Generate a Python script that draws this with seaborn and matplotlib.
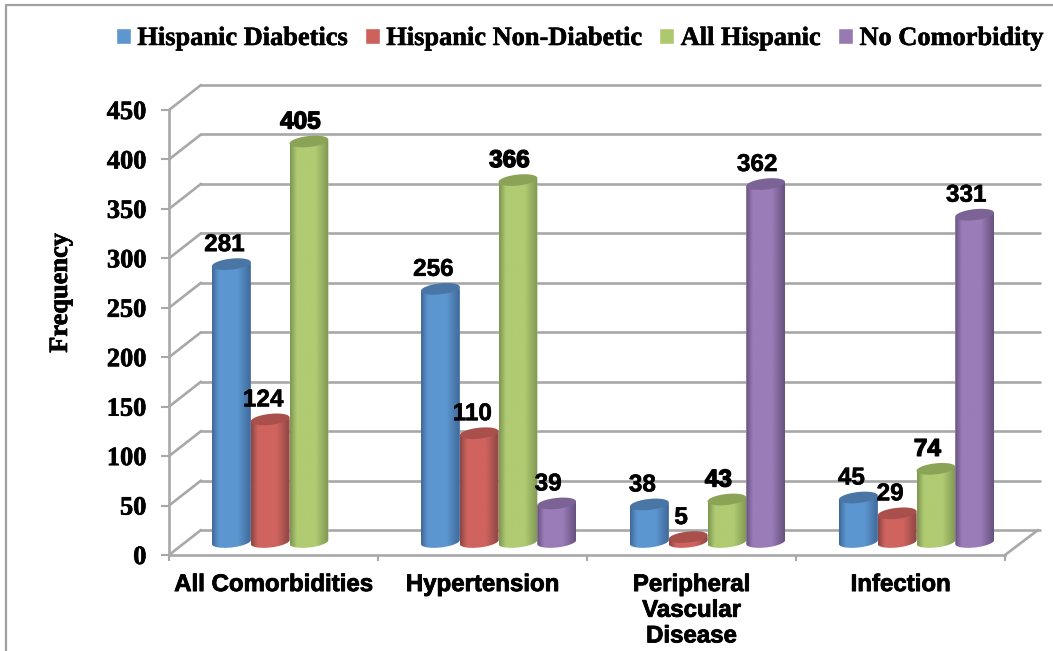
import numpy as np
import pandas as pd
import matplotlib
matplotlib.use("Agg")
import matplotlib.pyplot as plt
import matplotlib.patheffects as pe
from matplotlib.colors import LinearSegmentedColormap
from matplotlib.lines import Line2D
from matplotlib.patches import PathPatch
from matplotlib.path import Path
from matplotlib.transforms import Affine2D
import seaborn as sns

categories = ["All Comorbidities", "Hypertension", "Peripheral\nVascular\nDisease", "Infection"]
series_names = ["Hispanic Diabetics", "Hispanic Non-Diabetic", "All Hispanic", "No Comorbidity"]
hispanic_diabetics = [281, 256, 38, 45]
hispanic_non_diabetic = [124, 110, 5, 29]
all_hispanic = [405, 366, 43, 74]
no_comorbidity = [np.nan, 39, 362, 331]
y_ticks = [0, 50, 100, 150, 200, 250, 300, 350, 400, 450]

# Legend colour, cylinder edge, cylinder highlight and cap colour per series
swatch = ["#5F96CF", "#CD625D", "#AEC86F", "#977AB2"]
edge = ["#41699A", "#8C4644", "#7F9752", "#685280"]
highlight = ["#5C96D0", "#D0635E", "#B0CB72", "#9A7CB8"]
cap = ["#4A76A5", "#A94F4C", "#8AA356", "#7C6396"]
label_dx = [-7, -7, -8.5, -8.5]

GRID = "#A8A8A8"
W, H, DPI = 1053, 651, 100

table = pd.DataFrame({
    "category": np.tile(categories, 4),
    "series": np.repeat(series_names, 4),
    "frequency": hispanic_diabetics + hispanic_non_diabetic + all_hispanic + no_comorbidity,
})

sns.set_style("white")
plt.rcParams["font.family"] = ["Liberation Serif", "DejaVu Serif"]
plt.rcParams.update({"text.color": "black", "axes.labelcolor": "black",
                     "xtick.labelcolor": "black", "ytick.labelcolor": "black"})


def heavy(width=0.5):
    """Thin outline that thickens the bold lettering."""
    return [pe.withStroke(linewidth=width, foreground="black")]


fig = plt.figure(figsize=(W / DPI, H / DPI), dpi=DPI)
ax = fig.add_axes([169 / W, (H - 555) / H, 836 / W, 445 / H])
sns.barplot(
    data=table, x="category", y="frequency", hue="series",
    order=categories, hue_order=series_names, palette=swatch,
    width=0.742, gap=0, saturation=1, errorbar=None, ax=ax, zorder=3,
)
ax.set_xlim(-0.5, 3.5)
ax.set_ylim(0, 450)

# Data units per pixel, used for the perspective depth of walls and cylinders
sx = 4 / 836
sy = 450 / 445
bar_trans = ax.transData + Affine2D().translate(16, 13)

# Back wall gridlines and the diagonal side wall and floor edges
for v in y_ticks:
    ax.plot([-0.5 + 32 * sx, 3.5 + 35 * sx], [v + 25 * sy] * 2, color=GRID, lw=1.9,
            clip_on=False, zorder=1, solid_capstyle="round")
    ax.plot([-0.5, -0.5 + 32 * sx], [v, v + 25 * sy], color=GRID, lw=1.9,
            clip_on=False, zorder=1)
ax.plot([3.5, 3.5 + 33 * sx], [0, 25 * sy], color=GRID, lw=1.9, clip_on=False, zorder=1)

TILT = 2.0


def ring(xc, half, level, t):
    """Points on a tilted ellipse around (xc, level) in data units."""
    return np.column_stack([
        xc + half * np.cos(t),
        level + sy * (5.5 * np.sin(t) + TILT * np.cos(t)),
    ])


# Shade each seaborn bar as a cylinder: rounded base, side gradient and a flat cap
for i, container in enumerate(ax.containers):
    cmap = LinearSegmentedColormap.from_list(
        f"cyl{i}", [edge[i], highlight[i], highlight[i], edge[i]], N=128)
    ramp = np.interp(np.linspace(0, 1, 64), [0, 0.22, 0.55, 1], [0, 0.42, 0.55, 1])[None, :]
    for rect in container:
        x0, wd, top = rect.get_x(), rect.get_width(), rect.get_height()
        if not np.isfinite(top):
            continue
        xc, half = x0 + wd / 2, wd / 2
        lower = ring(xc, half, 0, np.linspace(np.pi, 2 * np.pi, 40))
        body = np.vstack([lower, [xc + half, top + TILT * sy], [xc - half, top - TILT * sy], lower[0]])
        body_path = Path(body)
        rect.set_transform(bar_trans)
        rect.set_clip_path(body_path, bar_trans)
        im = ax.imshow(ramp, cmap=cmap, vmin=0, vmax=1, aspect="auto", interpolation="bilinear",
                       extent=(x0, x0 + wd, -10 * sy, top + 5 * sy), zorder=3 + i * 0.1)
        im.set_transform(bar_trans)
        im.set_clip_path(body_path, bar_trans)
        lid = ring(xc, half, top, np.linspace(0, 2 * np.pi, 60))
        ax.add_patch(PathPatch(Path(lid), facecolor=cap[i], edgecolor="none",
                               transform=bar_trans, zorder=3.05 + i * 0.1))
        ax.annotate(f"{top:.0f}", xy=(xc, top), xycoords=bar_trans,
                    xytext=(label_dx[i] * 72 / DPI, 19.5 * 72 / DPI), textcoords="offset points",
                    ha="center", va="center", fontsize=17.5, fontweight="bold",
                    family="Liberation Sans", color="black", zorder=6,
                    path_effects=heavy(1.0 if i == 2 else 0.4), annotation_clip=False)

ax.set_xlim(-0.5, 3.5)
ax.set_ylim(0, 450)

# Axes, ticks and tick labels
for name, spine in ax.spines.items():
    spine.set_visible(name in ("left", "bottom"))
    spine.set_color(GRID)
    spine.set_linewidth(1.9)
ax.set_yticks(y_ticks)
ax.set_yticklabels([str(v) for v in y_ticks], fontsize=19, fontweight="bold",
                   family="Liberation Serif", color="black", path_effects=heavy(0.5))
ax.set_xticks([-0.5, 0.5, 1.5, 2.5, 3.5])
ax.set_xticklabels([])
ax.set_xticks(range(4), labels=categories, minor=True, fontsize=17.3, fontweight="bold", color="black",
              family="Liberation Sans", linespacing=1.15, va="top", path_effects=heavy(0.6))
ax.tick_params(axis="y", left=True, length=5.8, width=1.5, color=GRID, pad=10.5)
ax.tick_params(axis="x", which="major", bottom=True, length=4.5, width=1.5, color=GRID)
ax.tick_params(axis="x", which="minor", bottom=False, length=0, pad=13)
ax.set_xlabel("")
ax.set_ylabel("Frequency", fontsize=19, fontweight="bold", family="Liberation Serif",
              color="black", path_effects=heavy(0.5))
ax.yaxis.set_label_coords((72 - 169) / 836, (555 - 293) / 445)

sns.move_legend(
    ax, "center left", bbox_to_anchor=(116 / W, (H - 38.5) / H), bbox_transform=fig.transFigure,
    ncol=4, frameon=False, title=None, borderpad=0, borderaxespad=0,
    handlelength=0.56, handleheight=0.56, handletextpad=0.25, columnspacing=0.65,
    prop={"family": "Liberation Serif", "weight": "bold", "size": 19},
)
for label in ax.get_legend().get_texts():
    label.set_color("black")
    label.set_path_effects(heavy(0.4))

# Outer chart frame along the left and top edges
fig.add_artist(Line2D([6 / W, 6 / W, 1], [0, (H - 5) / H, (H - 5) / H], color="#A0A0A0", lw=1.6))

fig.savefig("out.png", dpi=DPI, facecolor="white")
